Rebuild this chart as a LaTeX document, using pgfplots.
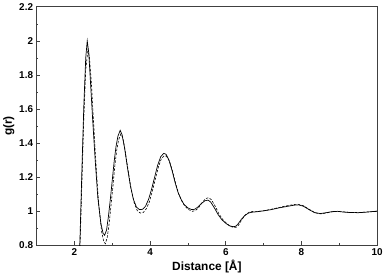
\documentclass[border=0pt]{standalone}
\usepackage{fontspec}
\setmainfont{Liberation Sans}
\usepackage{pgfplots}
\pgfplotsset{compat=1.18}
\begin{document}
\begin{tikzpicture}
\begin{axis}[
  scale only axis,
  width=344pt, height=241pt,
  xmin=1, xmax=10, ymin=0.8, ymax=2.2,
  xtick={2,4,6,8,10}, minor xtick={1,3,5,7,9},
  ytick={0.8,1,1.2,1.4,1.6,1.8,2,2.2}, minor ytick={0.9,1.1,1.3,1.5,1.7,1.9,2.1},
  tick align=inside, tick pos=left,
  major tick length=4pt, minor tick length=2pt,
  axis line style={black!75, line width=0.8pt},
  every tick/.style={black!75, line width=0.6pt},
  /pgf/number format/assume math mode=true,
  ticklabel style={font=\fontsize{10}{12}\selectfont\bfseries},
  xlabel={Distance [Å]}, ylabel={g(r)},
  label style={font=\fontsize{12}{14}\selectfont\bfseries},
  xlabel style={yshift=3pt},
  ylabel style={yshift=-2pt},
  clip=true,
]
\addplot[black, line width=0.7pt] coordinates {
(1,0) (2.05,0) (2.10,0.50) (2.15,0.85) (2.20,1.25) (2.25,1.62) (2.30,1.90) (2.34,2.00) (2.38,1.93)
(2.42,1.78) (2.48,1.55) (2.55,1.30) (2.62,1.08) (2.70,0.93) (2.76,0.87) (2.80,0.86)
(2.85,0.89) (2.90,0.97) (2.95,1.07) (3.00,1.18) (3.05,1.29) (3.10,1.38) (3.15,1.44)
(3.21,1.475) (3.26,1.45) (3.32,1.38) (3.40,1.26) (3.48,1.15) (3.56,1.07) (3.64,1.025)
(3.72,1.01) (3.80,1.012) (3.88,1.03) (3.96,1.07) (4.04,1.13) (4.12,1.20) (4.20,1.27)
(4.28,1.32) (4.36,1.34) (4.42,1.335) (4.50,1.30) (4.58,1.24) (4.66,1.17) (4.74,1.11)
(4.82,1.07) (4.90,1.04) (5.00,1.02) (5.10,1.01) (5.18,1.012) (5.26,1.025) (5.35,1.045)
(5.45,1.062) (5.53,1.066) (5.60,1.055) (5.70,1.02) (5.80,0.98) (5.90,0.95) (6.00,0.93)
(6.10,0.915) (6.20,0.91) (6.26,0.912) (6.32,0.925) (6.40,0.95) (6.50,0.975) (6.60,0.99)
(6.70,0.995) (6.80,0.997) (6.90,1.0) (7.00,1.003) (7.20,1.01) (7.40,1.02) (7.60,1.028)
(7.80,1.036) (7.92,1.038) (8.05,1.03) (8.20,1.01) (8.35,0.992) (8.50,0.987) (8.65,0.992)
(8.80,0.998) (8.95,1.0) (9.10,0.996) (9.30,0.993) (9.50,0.992) (9.70,0.995) (9.85,0.998)
(10.0,1.0)
};
\addplot[black, line width=0.6pt, dashed, dash pattern=on 2.5pt off 1.5pt] coordinates {
(1,0) (2.05,0) (2.10,0.45) (2.15,0.80) (2.20,1.18) (2.25,1.55) (2.30,1.83) (2.36,1.95) (2.40,1.90)
(2.45,1.75) (2.50,1.55) (2.57,1.28) (2.64,1.05) (2.72,0.88) (2.78,0.82) (2.82,0.81)
(2.87,0.85) (2.92,0.93) (2.97,1.04) (3.02,1.15) (3.07,1.27) (3.12,1.36) (3.17,1.42)
(3.23,1.455) (3.28,1.43) (3.34,1.36) (3.42,1.24) (3.50,1.13) (3.58,1.05) (3.66,1.005)
(3.74,0.99) (3.82,0.993) (3.90,1.015) (3.98,1.055) (4.06,1.12) (4.14,1.19) (4.22,1.26)
(4.30,1.31) (4.38,1.327) (4.44,1.322) (4.52,1.29) (4.60,1.23) (4.68,1.16) (4.76,1.10)
(4.84,1.06) (4.92,1.03) (5.02,1.01) (5.12,1.0) (5.20,1.005) (5.28,1.02) (5.37,1.05)
(5.47,1.075) (5.55,1.08) (5.62,1.068) (5.72,1.03) (5.82,0.985) (5.92,0.952) (6.02,0.93)
(6.12,0.912) (6.22,0.905) (6.28,0.907) (6.34,0.92) (6.42,0.95) (6.52,0.98) (6.62,0.995)
(6.72,1.0) (6.85,1.0) (7.00,1.003) (7.20,1.012) (7.40,1.022) (7.60,1.032) (7.80,1.04)
(7.90,1.042) (8.05,1.033) (8.20,1.012) (8.35,0.993) (8.50,0.985) (8.65,0.99) (8.80,0.997)
(8.95,1.0) (9.10,0.997) (9.30,0.993) (9.50,0.993) (9.70,0.996) (9.85,0.998) (10.0,1.002)
};
\end{axis}
\end{tikzpicture}
\end{document}
